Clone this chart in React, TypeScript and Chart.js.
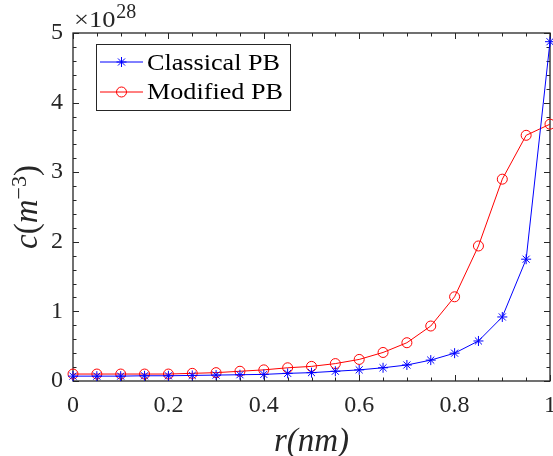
import React, { useEffect, useRef } from 'react';
import { Chart, registerables } from 'chart.js';
import { drawPoint } from 'chart.js/helpers';

Chart.register(...registerables);

const FONT = '"Liberation Serif", "Times New Roman", serif';
const AXIS_COLOR = '#262626';

// r (nm)
const rValues = [0, 0.05, 0.1, 0.15, 0.2, 0.25, 0.3, 0.35, 0.4, 0.45, 0.5, 0.55, 0.6, 0.65, 0.7, 0.75, 0.8, 0.85, 0.9, 0.95, 1];
// c (×10^28 m^-3)
const classicalPB = [0.07, 0.07, 0.07, 0.075, 0.075, 0.08, 0.085, 0.09, 0.095, 0.11, 0.12, 0.14, 0.16, 0.19, 0.23, 0.3, 0.4, 0.575, 0.92, 1.75, 4.875];
const modifiedPB = [0.1, 0.1, 0.1, 0.1, 0.1, 0.11, 0.12, 0.14, 0.16, 0.19, 0.21, 0.25, 0.31, 0.41, 0.55, 0.79, 1.21, 1.94, 2.9, 3.53, 3.69];

const seriesLabels = ['Classical PB', 'Modified PB'];
const xTickValues = [0, 0.2, 0.4, 0.6, 0.8, 1];
const xTickLabels = ['0', '0.2', '0.4', '0.6', '0.8', '1'];
const yTickValues = [0, 1, 2, 3, 4, 5];
const xMinorStep = 0.05;
const yMinorStep = 0.2;
const exponentBase = '×10';
const exponentPower = '28';
const xTitle = 'r(nm)';
const yTitleParts = ['c', '(', 'm', '−3', ')'];

function minorValues(min: number, max: number, step: number) {
  const out: number[] = [];
  const n = Math.round((max - min) / step);
  for (let i = 0; i <= n; i++) out.push(min + i * step);
  return out;
}

const matlabPlugin = {
  id: 'matlabFrame',
  beforeDatasetsDraw(chart: any) {
    const { ctx, chartArea: a, scales } = chart;
    const xs = scales.x;
    const ys = scales.y;
    ctx.save();
    ctx.strokeStyle = AXIS_COLOR;
    ctx.lineWidth = 1;
    ctx.beginPath();
    const xMinor = minorValues(xTickValues[0], xTickValues[xTickValues.length - 1], xMinorStep);
    const yMinor = minorValues(yTickValues[0], yTickValues[yTickValues.length - 1], yMinorStep);
    const drawX = (v: number, len: number) => {
      const px = Math.round(xs.getPixelForValue(v)) + 0.5;
      ctx.moveTo(px, a.bottom);
      ctx.lineTo(px, a.bottom - len);
      ctx.moveTo(px, a.top);
      ctx.lineTo(px, a.top + len);
    };
    const drawY = (v: number, len: number) => {
      const py = Math.round(ys.getPixelForValue(v)) + 0.5;
      ctx.moveTo(a.left, py);
      ctx.lineTo(a.left + len, py);
      ctx.moveTo(a.right, py);
      ctx.lineTo(a.right - len, py);
    };
    xMinor.forEach((v) => drawX(v, 3.5));
    xTickValues.forEach((v) => drawX(v, 6));
    yMinor.forEach((v) => drawY(v, 3.5));
    yTickValues.forEach((v) => drawY(v, 6));
    ctx.stroke();
    ctx.lineWidth = 1.3;
    ctx.strokeRect(a.left, a.top, a.right - a.left, a.bottom - a.top);

    // x tick labels, placed by the x scale
    ctx.fillStyle = AXIS_COLOR;
    ctx.font = `24px ${FONT}`;
    ctx.textAlign = 'center';
    ctx.textBaseline = 'middle';
    xTickValues.forEach((v, i) => {
      ctx.fillText(xTickLabels[i], xs.getPixelForValue(v), a.bottom + 25);
    });
    ctx.restore();
  },
  afterDraw(chart: any) {
    const { ctx, chartArea: a } = chart;
    ctx.save();
    // exponent label
    ctx.fillStyle = AXIS_COLOR;
    ctx.textAlign = 'left';
    ctx.textBaseline = 'alphabetic';
    ctx.save();
    ctx.translate(a.left + 1, 27);
    ctx.scale(1.15, 1);
    ctx.font = `23px ${FONT}`;
    ctx.fillText(exponentBase, 0, 0);
    const w = ctx.measureText(exponentBase).width * 1.15;
    ctx.restore();
    ctx.font = `20px ${FONT}`;
    ctx.fillText(exponentPower, a.left + 1 + w + 1, 18);

    // x title
    ctx.font = `italic 33px ${FONT}`;
    ctx.textAlign = 'center';
    ctx.fillText(xTitle, (a.left + a.right) / 2, 451);

    // y title (rotated, with superscript)
    const main = `italic 33px ${FONT}`;
    const up = `33px ${FONT}`;
    const sup = `22px ${FONT}`;
    const fonts = [main, up, main, sup, up];
    const widths = yTitleParts.map((t, i) => {
      ctx.font = fonts[i];
      return ctx.measureText(t).width;
    });
    const total = widths.reduce((s, v) => s + v, 0);
    ctx.save();
    ctx.translate(37, (a.top + a.bottom) / 2);
    ctx.rotate(-Math.PI / 2);
    ctx.textAlign = 'left';
    let cx = -total / 2;
    yTitleParts.forEach((t, i) => {
      ctx.font = fonts[i];
      ctx.fillText(t, cx, i === 3 ? -11 : 0);
      cx += widths[i];
    });
    ctx.restore();

    // legend
    const bx = 96, by = 44, bw = 194, bh = 66;
    ctx.fillStyle = '#ffffff';
    ctx.fillRect(bx, by, bw, bh);
    ctx.strokeStyle = AXIS_COLOR;
    ctx.lineWidth = 1;
    ctx.strokeRect(bx + 0.5, by + 0.5, bw, bh);
    const rows = [62, 92];
    const baselines = [70, 98.5];
    chart.data.datasets.forEach((ds: any, i: number) => {
      const y = rows[i];
      ctx.strokeStyle = ds.borderColor;
      ctx.lineWidth = ds.borderWidth;
      ctx.beginPath();
      ctx.moveTo(100, y);
      ctx.lineTo(143, y);
      ctx.stroke();
      ctx.fillStyle = 'rgba(0,0,0,0)';
      ctx.strokeStyle = ds.pointBorderColor;
      ctx.lineWidth = ds.pointBorderWidth;
      drawPoint(ctx, { pointStyle: ds.pointStyle, radius: ds.pointRadius, rotation: 0, borderWidth: ds.pointBorderWidth }, 121.5, y);
      ctx.save();
      ctx.fillStyle = '#000000';
      ctx.font = `24px ${FONT}`;
      ctx.textAlign = 'left';
      ctx.textBaseline = 'alphabetic';
      ctx.translate(147, baselines[i]);
      ctx.scale(1.09, 1);
      ctx.fillText(ds.label, 0, 0);
      ctx.restore();
    });
    ctx.restore();
  },
};

export default function App() {
  const canvasRef = useRef<HTMLCanvasElement | null>(null);

  useEffect(() => {
    if (!canvasRef.current) return;
    const toPoints = (vals: number[]) => vals.map((v, i) => ({ x: rValues[i], y: v }));
    const chart = new Chart(canvasRef.current, {
      type: 'line',
      data: {
        datasets: [
          {
            label: seriesLabels[0],
            data: toPoints(classicalPB),
            borderColor: '#0000ff',
            borderWidth: 1,
            backgroundColor: 'rgba(0,0,0,0)',
            pointStyle: 'star',
            pointRadius: 5,
            pointBorderColor: '#0000ff',
            pointBackgroundColor: 'rgba(0,0,0,0)',
            pointBorderWidth: 1,
            tension: 0,
            clip: false,
          },
          {
            label: seriesLabels[1],
            data: toPoints(modifiedPB),
            borderColor: '#ff0000',
            borderWidth: 1,
            backgroundColor: 'rgba(0,0,0,0)',
            pointStyle: 'circle',
            pointRadius: 5,
            pointBorderColor: '#ff0000',
            pointBackgroundColor: 'rgba(0,0,0,0)',
            pointBorderWidth: 1,
            tension: 0,
            clip: false,
          },
        ],
      },
      options: {
        animation: false,
        responsive: false,
        devicePixelRatio: 1,
        layout: { autoPadding: false, padding: { top: 33, left: 0, right: 3, bottom: 0 } },
        plugins: { legend: { display: false }, tooltip: { enabled: false } },
        events: [],
        scales: {
          x: {
            type: 'linear',
            min: 0,
            max: 1,
            grid: { display: false, drawTicks: false },
            border: { display: false },
            afterBuildTicks: (s: any) => {
              s.ticks = xTickValues.map((v) => ({ value: v }));
            },
            afterFit: (s: any) => {
              s.height = 75;
              s.paddingLeft = 0;
              s.paddingRight = 0;
            },
            ticks: { display: false },
          },
          y: {
            type: 'linear',
            min: 0,
            max: 5,
            grid: { display: false, drawTicks: false },
            border: { display: false },
            afterBuildTicks: (s: any) => {
              s.ticks = yTickValues.map((v) => ({ value: v }));
            },
            afterFit: (s: any) => {
              s.width = 73;
              s.paddingTop = 0;
              s.paddingBottom = 0;
            },
            ticks: {
              padding: 10,
              autoSkip: false,
              color: AXIS_COLOR,
              font: { family: FONT, size: 24 },
              callback: (v: any) => String(Number(v)),
            },
          },
        },
      },
      plugins: [matlabPlugin],
    } as any);
    return () => chart.destroy();
  }, []);

  return (
    <div style={{ position: 'absolute', left: 0, top: 0, width: 553, height: 456, background: '#fff' }}>
      <canvas ref={canvasRef} width={553} height={456} style={{ display: 'block' }} />
    </div>
  );
}
